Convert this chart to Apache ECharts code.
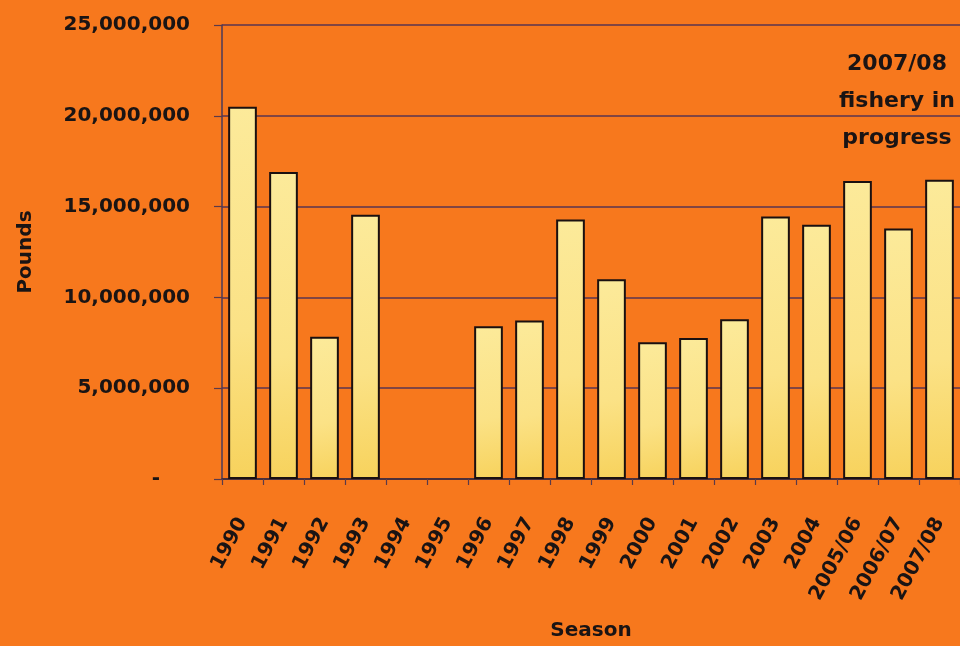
<!DOCTYPE html>
<html>
<head>
<meta charset="utf-8">
<script src="https://cdn.jsdelivr.net/npm/echarts@6/dist/echarts.min.js"></script>
<style>
html,body{margin:0;padding:0;background:#F8781E;}
#chart{width:960px;height:646px;}
</style>
</head>
<body>
<div id="chart"></div>
<script>
var seasons = ['1990','1991','1992','1993','1994','1995','1996','1997','1998','1999','2000','2001','2002','2003','2004','2005/06','2006/07','2007/08'];
var pounds = [20500000,16900000,7840000,14550000,null,null,8410000,8730000,14290000,11000000,7530000,7760000,8800000,14460000,14000000,16410000,13790000,16480000];
var yTicks = [0,5000000,10000000,15000000,20000000,25000000];
var note = ['2007/08','fishery in','progress'];

var FONT = 'DejaVu Sans';
var chart = echarts.init(document.getElementById('chart'), null, {renderer:'canvas'});
chart.setOption({
  backgroundColor: '#F7781D',
  animation: false,
  grid: {left: 222, top: 25, width: 745, height: 455, containLabel: false},
  xAxis: {
    type: 'category',
    data: seasons,
    boundaryGap: true,
    name: 'Season',
    nameLocation: 'middle',
    nameGap: 142,
    nameTextStyle: {fontFamily: FONT, fontWeight: 'bold', fontSize: 20, color: '#1a1414'},
    axisLine: {lineStyle: {color: '#3a2a3a', width: 1.5}},
    axisTick: {show: true, alignWithLabel: false, length: 6, lineStyle: {color: '#5a3a4a', width: 1.2}},
    axisLabel: {rotate: 62, margin: 40, interval: 0, fontFamily: FONT, fontWeight: 'bold', fontSize: 20, color: '#1a1414'}
  },
  yAxis: {
    type: 'value',
    min: yTicks[0],
    max: yTicks[yTicks.length - 1],
    interval: yTicks[1] - yTicks[0],
    name: 'Pounds',
    nameLocation: 'middle',
    nameGap: 186,
    nameRotate: 90,
    nameTextStyle: {fontFamily: FONT, fontWeight: 'bold', fontSize: 20, color: '#1a1414'},
    axisLine: {show: true, lineStyle: {color: '#4a3a5a', width: 1.5}},
    axisTick: {show: true, inside: false, length: 8, lineStyle: {color: '#5a3a4a', width: 1.2}},
    splitLine: {show: true, lineStyle: {color: '#5a3550', width: 1.5}},
    axisLabel: {
      margin: 32,
      fontFamily: FONT, fontWeight: 'bold', fontSize: 20, color: '#1a1414',
      formatter: function (v) { return v === 0 ? '{z|-}' : v.toLocaleString('en-US'); },
      rich: {z: {fontFamily: FONT, fontWeight: 'bold', fontSize: 20, color: '#1a1414', padding: [0, 30, 0, 0]}}
    }
  },
  series: [{
    type: 'bar',
    data: pounds,
    barCategoryGap: '30%',
    itemStyle: {
      color: new echarts.graphic.LinearGradient(0, 0, 1, 1, [
        {offset: 0, color: '#FCEA9A'},
        {offset: 0.6, color: '#FBE286'},
        {offset: 1, color: '#F7D25C'}
      ]),
      borderColor: '#1a1010',
      borderWidth: 2
    }
  }],
  graphic: [{
    type: 'text',
    left: 897 - 60,
    top: 46,
    style: {
      text: note.join('\n'),
      x: 0, y: 0,
      width: 120,
      align: 'center',
      textAlign: 'center',
      lineHeight: 37,
      fontFamily: FONT,
      fontWeight: 'bold',
      fontSize: 22,
      fill: '#1a1414'
    }
  }]
});
</script>
</body>
</html>
